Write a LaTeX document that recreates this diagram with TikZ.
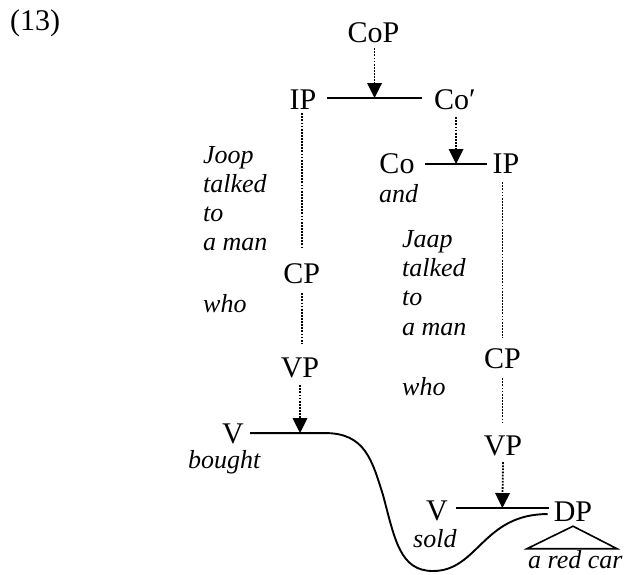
\documentclass[tikz,border=0pt]{standalone}
\usepackage{fontspec}
\setmainfont{Liberation Serif}
\usetikzlibrary{arrows.meta,calc}
\begin{document}
\begin{tikzpicture}[x=1pt,y=-1pt,
  lab/.style={font=\fontsize{30}{30}\selectfont, inner sep=0pt, text height=19.9pt, text depth=0pt, anchor=base},
  ex/.style={font=\fontsize{26}{29}\selectfont\itshape, inner sep=0pt, anchor=base west},
  branch/.style={line width=1.9pt},
  trace/.style={line width=1.8pt, dash pattern=on 1.8pt off 1.3pt},
  hit/.style={trace, -{Triangle[length=15pt,width=14.5pt]}}]
\useasboundingbox (0,0) rectangle (624,574);

% labels
\node[lab, anchor=base west] (num) at (10,30) {(13)};
\node[lab] (CoP) at (373.5,42) {CoP};
\node[lab] (IPa) at (303,109) {IP};
\node[lab, anchor=base west] (Cob) at (434,109) {Co′};
\node[lab] (Co) at (397,173) {Co};
\node[lab] (IPb) at (506,173) {IP};
\node[lab] (CPa) at (301.7,283) {CP};
\node[lab] (VPa) at (300,377) {VP};
\node[lab] (Va) at (233,443) {V};
\node[lab] (CPb) at (502.5,368) {CP};
\node[lab] (VPb) at (503,455) {VP};
\node[lab] (Vb) at (437,520) {V};
\node[lab] (DP) at (573,521) {DP};

% italic text
\node[ex] (j1) at (203,163) {Joop};
\node[ex] (j2) at (203,192) {talked};
\node[ex] (j3) at (203,221) {to};
\node[ex] (j4) at (203,250) {a man};
\node[ex] (j5) at (203,312) {who};
\node[ex] (and) at (379,202) {and};
\node[ex] (k1) at (402,247) {Jaap};
\node[ex] (k2) at (402,276) {talked};
\node[ex] (k3) at (402,305) {to};
\node[ex] (k4) at (402,335) {a man};
\node[ex] (k5) at (402,395) {who};
\node[ex] (bought) at (188,468) {bought};
\node[ex] (sold) at (413,547) {sold};
\node[ex] (arc) at (528,568) {a red car};

% IP -- Co'
\coordinate (l1a) at ([xshift=10.5pt,yshift=1pt]IPa.east);
\coordinate (l1b) at ([xshift=-12pt]Cob.west);
\draw[branch] (l1a) -- (l1a -| l1b);
\coordinate (m1) at ($(l1a)!0.5!(l1a -| l1b)$);
\draw[hit] ($(CoP.south -| m1)+(0,6)$) -- (m1);

% Co -- IP
\coordinate (l2a) at ([xshift=10pt,yshift=-1pt]Co.east);
\coordinate (l2b) at ([xshift=-5pt]IPb.west);
\draw[branch] (l2a) -- (l2a -| l2b);
\coordinate (m2) at ($(l2a)!0.5!(l2a -| l2b)$);
\draw[hit] ($(Cob.south -| m2)+(0,8)$) -- (m2);

% left column
\draw[trace] ($(IPa.south -| CPa)+(0,4)$) -- ($(CPa.north)+(0,-14)$);
\draw[trace] ($(CPa.south)+(0,10)$) -- ($(VPa.north -| CPa)+(0,-14)$);

% right column
\draw[trace] ($(IPb.south -| CPb)+(0,9)$) -- ($(CPb.north)+(0,-10)$);
\draw[trace] ($(CPb.south)+(0,10)$) -- ($(VPb.north -| CPb)+(0,-12)$);

% V -- DP
\coordinate (l3a) at ([xshift=8pt,yshift=2pt]Vb.east);
\coordinate (l3b) at ([xshift=-5pt]DP.west);
\draw[branch] (l3a) -- (l3a -| l3b);
\coordinate (m3) at ($(l3a)!0.5!(l3a -| l3b)$);
\draw[hit] ($(VPb.south)+(0,7)$) -- (m3);

% curve from V (bought) to DP
\coordinate (c0) at ([xshift=6pt]Va.east);
\coordinate (c1) at ([xshift=-6pt,yshift=-3pt]DP.west);
\draw[branch] (c0) -- ++(75,0) .. controls +(40,0) and +(-11,-35) .. (383,495)
  .. controls +(12,45) and +(-33,0) .. (433,571)
  .. controls +(45,0) and +(-65,0) .. (c1);
\draw[hit] ($(VPa.south)+(0,8)$) -- (VPa.south |- c0);

% triangle
\draw[branch, line width=1.6pt] ($(DP.south)+(0,5)$) -- ($(DP.south)+(-46,27.5)$) -- ($(DP.south)+(44,27.5)$) -- cycle;
\end{tikzpicture}
\end{document}
